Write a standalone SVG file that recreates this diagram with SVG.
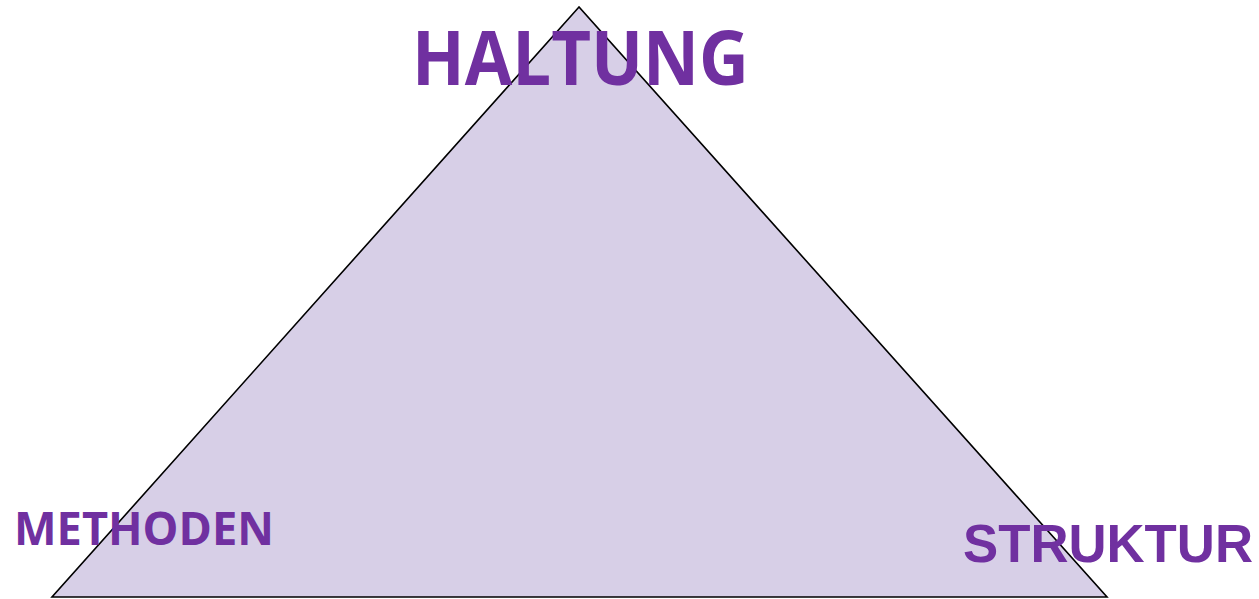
<svg xmlns="http://www.w3.org/2000/svg" width="1259" height="599" viewBox="0 0 1259 599">
<style>
.lbl{fill:#7030A0;font-weight:bold;}
.cal{font-family:"Open Sans","Noto Sans",sans-serif;}
.ari{font-family:"Liberation Sans",Arial,sans-serif;}
</style>
<rect width="1259" height="599" fill="#ffffff"/>
<g id="triangle">
<polygon points="579,7 52,597 1107,597" fill="#D7CFE7" stroke="#000000" stroke-width="1.6" stroke-linejoin="miter"/>
</g>
<g id="haltung">
<text class="lbl cal" x="412" y="85" font-size="75" textLength="337" lengthAdjust="spacingAndGlyphs">HALTUNG</text>
</g>
<g id="methoden">
<text class="lbl cal" x="14" y="545" font-size="46" textLength="260" lengthAdjust="spacingAndGlyphs">METHODEN</text>
</g>
<g id="struktur">
<text class="lbl ari" x="963" y="562" font-size="54" textLength="290" lengthAdjust="spacingAndGlyphs">STRUKTUR</text>
</g>
</svg>
